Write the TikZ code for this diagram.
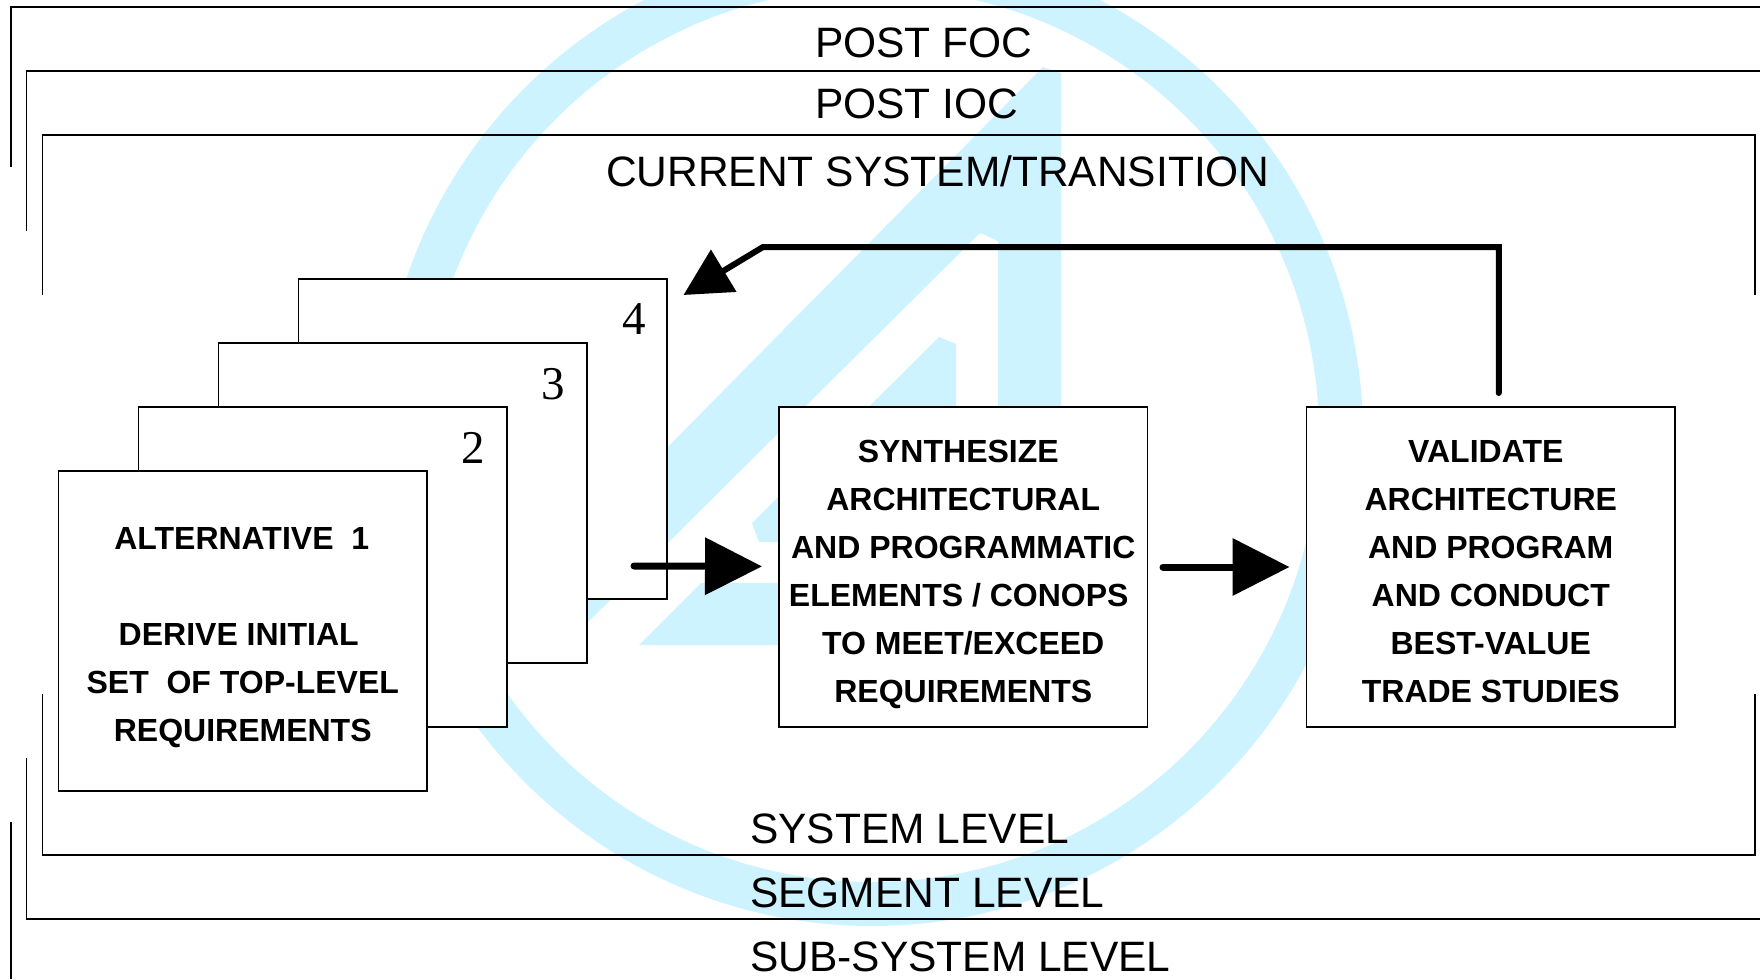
\documentclass[tikz,border=0pt]{standalone}
\usepackage{fontspec}
\setmainfont{Liberation Sans}
\newfontfamily\numfont{Liberation Serif}
\usetikzlibrary{arrows.meta, positioning}
\definecolor{markblue}{HTML}{CCF3FF}

\begin{document}
\begin{tikzpicture}[x=1pt, y=-1pt, >=Stealth, node distance=159pt,
  framelabel/.style={anchor=base west, inner sep=0pt, font=\fontsize{42.5}{42.5}\selectfont},
  framerule/.style={line width=1.4pt, line join=miter},
  cardbox/.style={draw, fill=white, line width=1.4pt, minimum width=368.5pt, minimum height=320pt, inner sep=0pt, outer sep=0pt, align=center, text depth=0pt, font=\fontsize{32}{48}\selectfont\bfseries},
  cardnum/.style={anchor=base, inner sep=0pt, font=\fontsize{47}{47}\selectfont\numfont},
  flow/.style={line width=7pt, line cap=round, -{Triangle[length=57pt, width=56pt]}},
  backflow/.style={line width=6pt, line cap=round, line join=miter, -{Triangle[length=47pt, width=48pt]}}]

\useasboundingbox (0,0) rectangle (1760,979);

% Watermark behind everything
\fill[markblue, even odd rule] (872,435) circle (491pt) (872,435) circle (447pt);
\fill[markblue] (1043,67) -- (1061,73) -- (1061,420) -- (998,420) -- (998,241) -- (980,233) -- (570,640) -- (560,556) -- cycle;
\fill[markblue] (939,337) -- (956,344) -- (956,500) -- (900,542) -- (759,542) -- (752,523) -- cycle;
\fill[markblue] (639,645) -- (701,583) -- (800,583) -- (800,645) -- cycle;

% Open frames, top
\draw[framerule] (11,167) -- (11,7) -- (1760,7);
\draw[framerule] (26.5,231) -- (26.5,71) -- (1760,71);
\draw[framerule] (42.5,295) -- (42.5,135) -- (1755,135) -- (1755,295);

% Open frames, bottom
\draw[framerule] (42.5,694) -- (42.5,855) -- (1755,855) -- (1755,694);
\draw[framerule] (26.5,758) -- (26.5,919) -- (1760,919);
\draw[framerule] (11,822) -- (11,979);

% Frame labels
\node[framelabel] (postfoc) at (815,58) {POST FOC};
\node[framelabel] (postioc) at (815,118) {POST IOC};
\node[framelabel] (current) at (606,186) {CURRENT SYSTEM/TRANSITION};
\node[framelabel] (syslevel) at (750,843) {SYSTEM LEVEL};
\node[framelabel] (seglevel) at (750,907) {SEGMENT LEVEL};
\node[framelabel] (sublevel) at (750,971) {SUB-SYSTEM LEVEL};

% Stack of alternatives
\node[cardbox] (alt4) at (482.75,439) {};
\node[cardbox] (alt3) at (402.75,503) {};
\node[cardbox] (alt2) at (322.75,567) {};
\node[cardbox, text height=220pt] (alt1) at (242.75,631) {ALTERNATIVE\ \ 1\kern2pt\\ \\DERIVE INITIAL\kern8pt\\SET\ \ OF TOP-LEVEL\\REQUIREMENTS};
\node[cardnum] (num4) at ([shift={(-33,55)}]alt4.north east) {4};
\node[cardnum] (num3) at ([shift={(-34,56)}]alt3.north east) {3};
\node[cardnum] (num2) at ([shift={(-34,56)}]alt2.north east) {2};

% Process boxes
\node[cardbox, text height=270pt, right=272pt of alt2] (synth) {SYNTHESIZE\kern10pt\\ARCHITECTURAL\\AND PROGRAMMATIC\\ELEMENTS / CONOPS\kern9pt\\TO MEET/EXCEED\\REQUIREMENTS};
\node[cardbox, text height=270pt, right=of synth] (validate) {VALIDATE\kern10pt\\ARCHITECTURE\\AND PROGRAM\\AND CONDUCT\\BEST-VALUE\\TRADE STUDIES};

% Arrows
\coordinate (flowstart) at (634,566);
\coordinate (backbend) at (763,247);
\coordinate (backtip) at (683.5,295);
\draw[flow, shorten >=17pt] (flowstart) -- (synth);
\draw[flow, shorten <=15.5pt, shorten >=17pt] (synth.east) -- (validate.west);
\draw[backflow, shorten <=14pt] ([xshift=8pt]validate.north) |- (backbend) -- (backtip);

\end{tikzpicture}
\end{document}
